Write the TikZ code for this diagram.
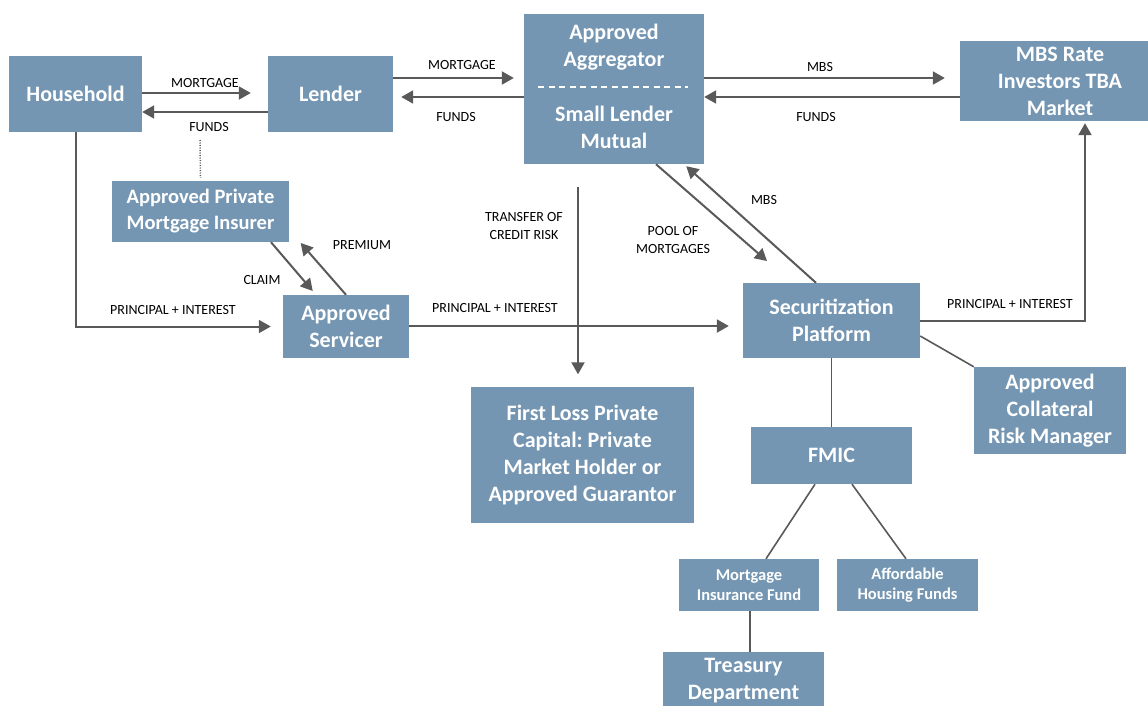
\documentclass[tikz,border=0pt]{standalone}
\usepackage{fontspec}
\setmainfont{Carlito}
\frenchspacing
\usetikzlibrary{arrows.meta}
\definecolor{boxc}{RGB}{116,150,178}
\definecolor{linec}{RGB}{89,89,89}
\tikzset{
  box/.style={fill=boxc,text=white,font=\bfseries\fontsize{22}{27}\selectfont,align=center,inner sep=0pt,draw=none},
  sbox/.style={box,font=\bfseries\fontsize{16.5}{20}\selectfont},
  lbl/.style={font=\fontsize{14}{17.5}\selectfont,align=center,inner sep=0pt,text=black},
  arr/.style={draw=linec,line width=2pt,-{Triangle[length=12pt,width=13pt]}},
  ln/.style={draw=linec,line width=1.6pt}
}
\begin{document}
\begin{tikzpicture}[x=1pt,y=-1pt]
\useasboundingbox (0,0) rectangle (1148,705);
% boxes
\node[box,minimum width=133pt,minimum height=76pt] (hh) at (75.5,94) {Household};
\node[box,minimum width=125pt,minimum height=76pt] (lend) at (330.5,94) {Lender};
\node[box,minimum width=180pt,minimum height=150pt] (agg) at (614,89) {};
\node[box,fill=none] (aggA) at (614,47) {Approved\\Aggregator};
\node[box,fill=none] (aggB) at (614,127) {Small Lender\\Mutual};
\draw[white,line width=1.3pt,dash pattern=on 6pt off 4.5pt] (538,87) -- (688,87);
\node[box,minimum width=200pt,minimum height=80pt] (mbs) at (1060,81) {MBS Rate\\Investors TBA\\Market};
\node[box,font=\bfseries\fontsize{20.5}{26}\selectfont,minimum width=177pt,minimum height=61pt] (ins) at (200.5,211.5) {Approved Private\\Mortgage Insurer};
\node[box,minimum width=126pt,minimum height=63pt] (serv) at (346,326.5) {Approved\\Servicer};
\node[box,minimum width=177pt,minimum height=75pt] (sec) at (831.5,320.5) {Securitization\\Platform};
\node[box,minimum width=152pt,minimum height=87pt] (crm) at (1050,410.5) {Approved\\Collateral\\Risk Manager};
\node[box,minimum width=161pt,minimum height=57pt] (fmic) at (831.5,455.5) {FMIC};
\node[box,minimum width=223pt,minimum height=136pt] (flc) at (582.5,454.5) {First Loss Private\\Capital: Private\\Market Holder or\\Approved Guarantor};
\node[sbox,minimum width=140pt,minimum height=52pt] (mif) at (749,585) {Mortgage\\Insurance Fund};
\node[sbox,minimum width=141pt,minimum height=52pt] (ahf) at (907.5,585) {Affordable\\Housing Funds};
\node[box,minimum width=161pt,minimum height=62pt] (treas) at (743.5,683) {};
\node[box,fill=none] (treasT) at (743.5,681) {Treasury\\Department};
% coordinates
\coordinate (dotTop) at (200,140);
\coordinate (trTop) at (578,187);
\coordinate (poolEnd) at (767,261);
% connectors
\draw[arr,shorten >=17pt] (hh.east |- 0,93) -- (lend.west |- 0,93);
\draw[arr] (lend.west |- 0,112) -- (hh.east |- 0,112);
\draw[arr,shorten >=10pt] (lend.east |- 0,78) -- (agg.west |- 0,78);
\draw[arr,shorten >=8pt] (agg.west |- 0,97) -- (lend.east |- 0,97);
\draw[arr,shorten >=15pt] (agg.east |- 0,78) -- (mbs.west |- 0,78);
\draw[arr] (mbs.west |- 0,97) -- (agg.east |- 0,97);
\draw[draw=linec,line width=1.5pt,dash pattern=on 1pt off 1.5pt] (dotTop) -- ([yshift=3pt]ins.north);
\draw[arr,shorten >=12pt] (hh.south) |- (serv.west);
\draw[arr,shorten >=5pt] (271,0 |- ins.south) -- (316,0 |- serv.north);
\draw[arr,shorten >=1pt] (346,0 |- serv.north) -- (300,0 |- ins.south);
\draw[arr,shorten >=14pt] (serv.east |- 0,326) -- (sec.west |- 0,326);
\draw[arr,shorten >=12pt] (trTop) -- (578,0 |- flc.north);
\draw[arr] (656,0 |- agg.south) -- (poolEnd);
\draw[arr,shorten >=3pt] (816,0 |- sec.north) -- (684,0 |- agg.south);
\draw[arr,shorten >=2pt] (sec.east) -| (1085,0 |- mbs.south);
\draw[ln] (sec.east |- 0,336) -- (crm.north west);
\draw[ln] (sec.south) -- (fmic.north);
\draw[ln] (815,0 |- fmic.south) -- (766,0 |- mif.north);
\draw[ln] (852,0 |- fmic.south) -- (906,0 |- ahf.north);
\draw[ln] (750,0 |- mif.south) -- (750,0 |- treas.north);
% labels
\node[lbl] (l1) at (205,83) {MORTGAGE};
\node[lbl] (l2) at (209,127) {FUNDS};
\node[lbl] (l3) at (462,65) {MORTGAGE};
\node[lbl] (l4) at (456,117) {FUNDS};
\node[lbl] (l5) at (820,67) {MBS};
\node[lbl] (l6) at (816,117) {FUNDS};
\node[lbl] (l7) at (173,310) {PRINCIPAL + INTEREST};
\node[lbl] (l8) at (262,280) {CLAIM};
\node[lbl] (l9) at (362,245) {PREMIUM};
\node[lbl] (l10) at (524,226) {TRANSFER OF\\CREDIT RISK};
\node[lbl] (l11) at (495,308) {PRINCIPAL + INTEREST};
\node[lbl] (l12) at (673,240) {POOL OF\\MORTGAGES};
\node[lbl] (l13) at (764,200) {MBS};
\node[lbl] (l14) at (1010,304) {PRINCIPAL + INTEREST};
\end{tikzpicture}
\end{document}
